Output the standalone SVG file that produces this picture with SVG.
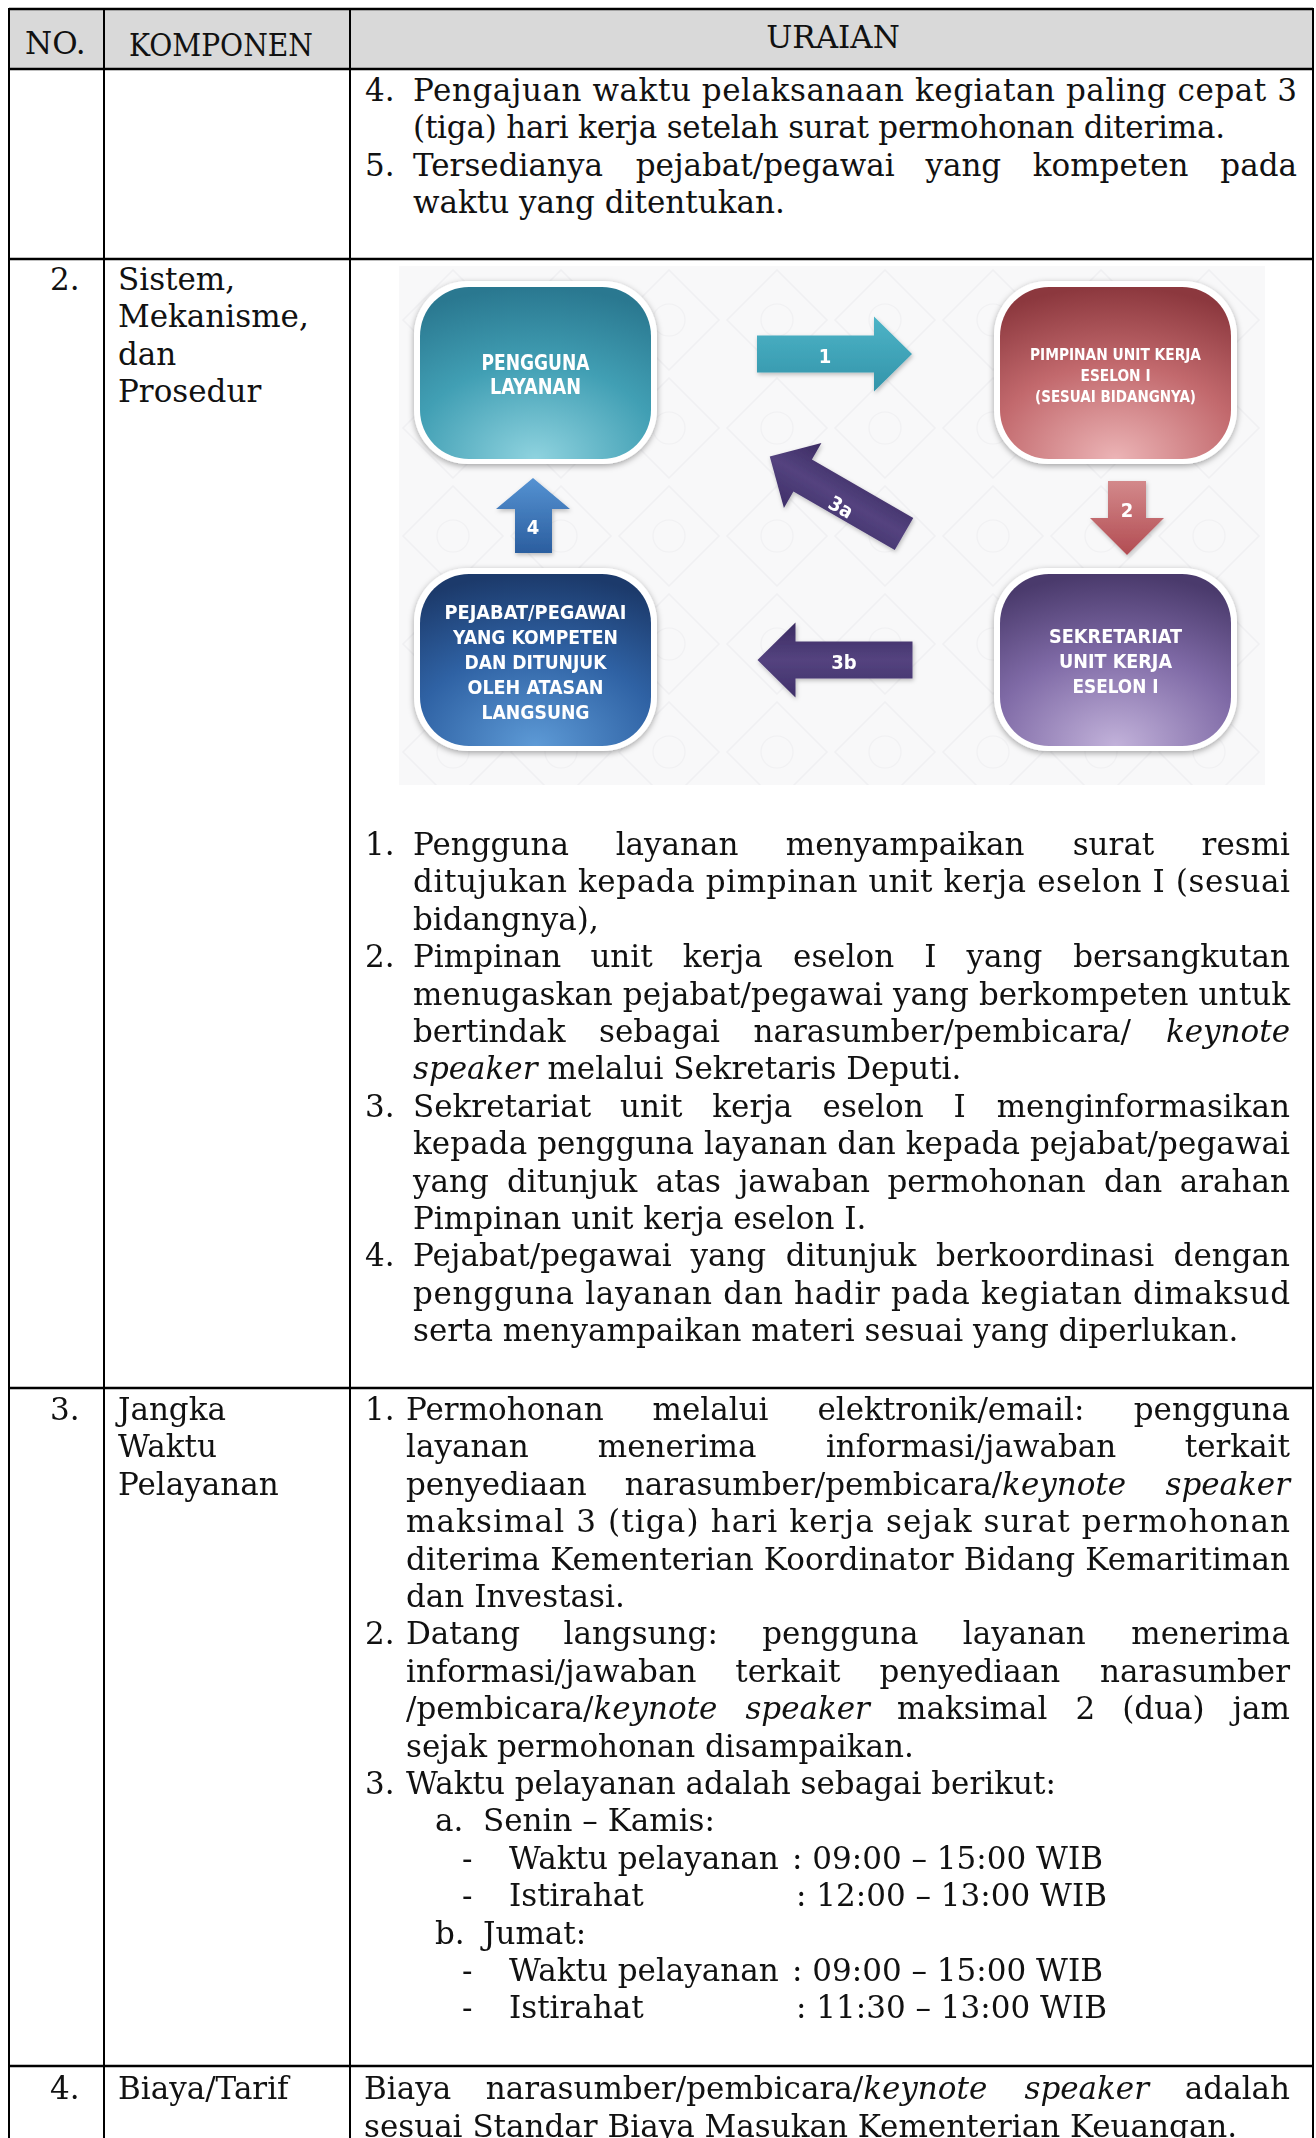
<svg xmlns="http://www.w3.org/2000/svg" width="1316" height="2138" viewBox="0 0 1316 2138">
<style>
.t{font-family:"DejaVu Serif","Liberation Serif",serif;font-size:31px;fill:#111}
.i{font-style:italic}
.e{text-anchor:end}
.m{text-anchor:middle}
.bl{font-family:"DejaVu Sans Condensed","Liberation Sans Narrow","DejaVu Sans",sans-serif;font-weight:bold;fill:#fff;text-anchor:middle}
.grid{stroke:#000;stroke-width:2;fill:none}
.rowl{stroke:#000;stroke-width:2.5}
.frame{fill:#fff;filter:url(#sh)}
</style>
<defs>
<filter id="sh" x="-10%" y="-10%" width="120%" height="125%">
<feDropShadow dx="0" dy="2" stdDeviation="3" flood-color="#000" flood-opacity="0.35"/>
</filter>
<filter id="ash" x="-10%" y="-10%" width="130%" height="130%">
<feDropShadow dx="1" dy="2" stdDeviation="2" flood-color="#000" flood-opacity="0.25"/>
</filter>
<radialGradient id="gTeal" cx="50%" cy="100%" r="100%">
<stop offset="0" stop-color="#8fd3df"/><stop offset="0.55" stop-color="#419fb4"/><stop offset="1" stop-color="#2a7890"/>
</radialGradient>
<radialGradient id="gRed" cx="50%" cy="100%" r="100%">
<stop offset="0" stop-color="#ecb4b6"/><stop offset="0.55" stop-color="#c2696d"/><stop offset="1" stop-color="#8c383e"/>
</radialGradient>
<radialGradient id="gNavy" cx="50%" cy="100%" r="100%">
<stop offset="0" stop-color="#5d9ad6"/><stop offset="0.55" stop-color="#2f62a4"/><stop offset="1" stop-color="#1c3a6b"/>
</radialGradient>
<radialGradient id="gPurp" cx="50%" cy="100%" r="100%">
<stop offset="0" stop-color="#c2b2da"/><stop offset="0.55" stop-color="#7f6aa6"/><stop offset="1" stop-color="#4a3a6c"/>
</radialGradient>
<linearGradient id="aTeal" x1="0" y1="0" x2="0" y2="1">
<stop offset="0" stop-color="#4db4c7"/><stop offset="1" stop-color="#3394aa"/>
</linearGradient>
<linearGradient id="aRed" x1="0" y1="0" x2="0" y2="1">
<stop offset="0" stop-color="#d3898b"/><stop offset="1" stop-color="#b24c52"/>
</linearGradient>
<linearGradient id="aPurp" x1="0" y1="0" x2="0" y2="1">
<stop offset="0" stop-color="#3f2f69"/><stop offset="0.5" stop-color="#54437f"/><stop offset="1" stop-color="#3b2b62"/>
</linearGradient>
<linearGradient id="aBlue" x1="0" y1="0" x2="0" y2="1">
<stop offset="0" stop-color="#5592d2"/><stop offset="1" stop-color="#2b5e9f"/>
</linearGradient>
<pattern id="bgp" width="108" height="108" patternUnits="userSpaceOnUse" x="399" y="266">
<rect width="108" height="108" fill="#f8f8f9"/>
<path d="M54 4 L104 54 L54 104 L4 54 Z" fill="none" stroke="#f0f0f2" stroke-width="1.5"/>
<circle cx="54" cy="54" r="16" fill="none" stroke="#f1f1f3" stroke-width="1.2"/>
</pattern>
<path id="arr" d="M0 -18.5 L117 -18.5 L117 -37.5 L155 0 L117 37.5 L117 18.5 L0 18.5 Z"/>
</defs>

<rect width="1316" height="2138" fill="#fff"/>

<g id="table">
<rect x="9" y="9" width="1304" height="60" fill="#d9d9d9"/>
<line class="rowl" x1="9" y1="9" x2="1313" y2="9"/>
<line class="rowl" x1="9" y1="69" x2="1313" y2="69"/>
<line class="rowl" x1="9" y1="259" x2="1313" y2="259"/>
<line class="rowl" x1="9" y1="1388" x2="1313" y2="1388"/>
<line class="rowl" x1="9" y1="2066" x2="1313" y2="2066"/>
<line class="grid" x1="9" y1="8" x2="9" y2="2138"/>
<line class="grid" x1="104" y1="8" x2="104" y2="2138"/>
<line class="grid" x1="350" y1="8" x2="350" y2="2138"/>
<line class="grid" x1="1313" y1="8" x2="1313" y2="2138"/>
</g>

<g id="header">
<text class="t" x="25" y="53.5">NO.</text>
<text class="t" x="129" y="55.5" textLength="184" lengthAdjust="spacingAndGlyphs">KOMPONEN</text>
<text class="t m" x="833" y="48">URAIAN</text>
</g>

<g id="row1">
<text class="t" x="365" y="100.5">4.</text>
<text class="t" x="413" y="100.5" textLength="884" lengthAdjust="spacing">Pengajuan waktu pelaksanaan kegiatan paling cepat 3</text>
<text class="t" x="413" y="138" textLength="812" lengthAdjust="spacing">(tiga) hari kerja setelah surat permohonan diterima.</text>
<text class="t" x="365" y="175.5">5.</text>
<text class="t" y="175.5"><tspan x="413">Tersedianya</tspan><tspan x="635.7">pejabat/pegawai</tspan><tspan x="925.4">yang</tspan><tspan x="1032.7">kompeten</tspan></text>
<text class="t e" x="1297" y="175.5">pada</text>
<text class="t" x="413" y="213">waktu yang ditentukan.</text>
</g>

<g id="row2">
<text class="t" x="50" y="290">2.</text>
<text class="t" x="118" y="290">Sistem,</text>
<text class="t" x="118" y="327.4">Mekanisme,</text>
<text class="t" x="118" y="364.8">dan</text>
<text class="t" x="118" y="402.2">Prosedur</text>

<rect x="399" y="266" width="866" height="519" fill="url(#bgp)"/>

<g id="connectors" filter="url(#ash)">
<g id="arrow-1">
<use href="#arr" transform="translate(757 354)" fill="url(#aTeal)"/>
<text class="bl" x="825" y="363" font-size="20">1</text>
</g>
<g id="arrow-2">
<path d="M1108 481 L1146 481 L1146 518 L1164 518 L1127 555 L1090 518 L1108 518 Z" fill="url(#aRed)"/>
<text class="bl" x="1127" y="517" font-size="20">2</text>
</g>
<g id="arrow-3a">
<use href="#arr" transform="translate(904 534) rotate(210)" fill="url(#aPurp)"/>
<text class="bl" x="841" y="514" font-size="20" transform="rotate(30 841 507)">3a</text>
</g>
<g id="arrow-3b">
<use href="#arr" transform="translate(912.5 660) rotate(180)" fill="url(#aPurp)"/>
<text class="bl" x="844" y="669" font-size="20">3b</text>
</g>
<g id="arrow-4">
<path d="M515 553 L552 553 L552 509 L570 509 L533 478 L496 509 L515 509 Z" fill="url(#aBlue)"/>
<text class="bl" x="533" y="534" font-size="20">4</text>
</g>
</g>

<g id="node-pengguna">
<rect class="frame" x="414" y="281" width="243" height="183" rx="54"/>
<rect x="420" y="287" width="231" height="172" rx="49" fill="url(#gTeal)"/>
<text class="bl" x="535.5" y="370" font-size="21" textLength="108" lengthAdjust="spacingAndGlyphs">PENGGUNA</text>
<text class="bl" x="535.5" y="393.5" font-size="21" textLength="91" lengthAdjust="spacingAndGlyphs">LAYANAN</text>
</g>

<g id="node-pimpinan">
<rect class="frame" x="994" y="281" width="243" height="183" rx="54"/>
<rect x="1000" y="287" width="231" height="172" rx="49" fill="url(#gRed)"/>
<text class="bl" x="1115.5" y="360" font-size="15.5" textLength="171" lengthAdjust="spacingAndGlyphs">PIMPINAN UNIT KERJA</text>
<text class="bl" x="1115.5" y="381" font-size="15.5" textLength="70" lengthAdjust="spacingAndGlyphs">ESELON I</text>
<text class="bl" x="1115.5" y="401.5" font-size="15.5" textLength="161" lengthAdjust="spacingAndGlyphs">(SESUAI BIDANGNYA)</text>
</g>

<g id="node-pejabat">
<rect class="frame" x="414" y="568" width="243" height="183" rx="54"/>
<rect x="420" y="574" width="231" height="172" rx="49" fill="url(#gNavy)"/>
<text class="bl" x="535.5" y="618.5" font-size="19" textLength="182" lengthAdjust="spacingAndGlyphs">PEJABAT/PEGAWAI</text>
<text class="bl" x="535.5" y="643.5" font-size="19" textLength="165" lengthAdjust="spacingAndGlyphs">YANG KOMPETEN</text>
<text class="bl" x="535.5" y="668.5" font-size="19" textLength="142" lengthAdjust="spacingAndGlyphs">DAN DITUNJUK</text>
<text class="bl" x="535.5" y="693.5" font-size="19" textLength="136" lengthAdjust="spacingAndGlyphs">OLEH ATASAN</text>
<text class="bl" x="535.5" y="718.5" font-size="19" textLength="108" lengthAdjust="spacingAndGlyphs">LANGSUNG</text>
</g>

<g id="node-sekretariat">
<rect class="frame" x="994" y="568" width="243" height="183" rx="54"/>
<rect x="1000" y="574" width="231" height="172" rx="49" fill="url(#gPurp)"/>
<text class="bl" x="1115.5" y="643" font-size="19" textLength="133" lengthAdjust="spacingAndGlyphs">SEKRETARIAT</text>
<text class="bl" x="1115.5" y="668" font-size="19" textLength="113" lengthAdjust="spacingAndGlyphs">UNIT KERJA</text>
<text class="bl" x="1115.5" y="693" font-size="19" textLength="86" lengthAdjust="spacingAndGlyphs">ESELON I</text>
</g>

<text class="t" x="365" y="855">1.</text>
<text class="t" y="855"><tspan x="413">Pengguna</tspan><tspan x="615.7">layanan</tspan><tspan x="785.8">menyampaikan</tspan><tspan x="1072.7">surat</tspan></text>
<text class="t e" x="1290" y="855">resmi</text>
<text class="t" x="413" y="892.4" textLength="877" lengthAdjust="spacing">ditujukan kepada pimpinan unit kerja eselon I (sesuai</text>
<text class="t" x="413" y="929.8">bidangnya),</text>
<text class="t" x="365" y="967.2">2.</text>
<text class="t" y="967.2"><tspan x="413">Pimpinan</tspan><tspan x="590.4">unit</tspan><tspan x="682.7">kerja</tspan><tspan x="793.1">eselon</tspan><tspan x="924.2">I</tspan><tspan x="966.6">yang</tspan></text>
<text class="t e" x="1290" y="967.2">bersangkutan</text>
<text class="t" x="413" y="1004.6" textLength="877" lengthAdjust="spacing">menugaskan pejabat/pegawai yang berkompeten untuk</text>
<text class="t" y="1042"><tspan x="413">bertindak</tspan><tspan x="599.1">sebagai</tspan><tspan x="753.5">narasumber/pembicara/</tspan></text>
<text class="t i e" x="1290" y="1042">keynote</text>
<text class="t" x="413" y="1079.4"><tspan class="i">speaker</tspan> melalui Sekretaris Deputi.</text>
<text class="t" x="365" y="1116.8">3.</text>
<text class="t" y="1116.8"><tspan x="413">Sekretariat</tspan><tspan x="620.1">unit</tspan><tspan x="712.3">kerja</tspan><tspan x="822.6">eselon</tspan><tspan x="953.6">I</tspan></text>
<text class="t e" x="1290" y="1116.8">menginformasikan</text>
<text class="t" x="413" y="1154.2" textLength="877" lengthAdjust="spacing">kepada pengguna layanan dan kepada pejabat/pegawai</text>
<text class="t" y="1191.6"><tspan x="413">yang</tspan><tspan x="506.9">ditunjuk</tspan><tspan x="655.7">atas</tspan><tspan x="738.7">jawaban</tspan><tspan x="887.5">permohonan</tspan><tspan x="1103.9">dan</tspan></text>
<text class="t e" x="1290" y="1191.6">arahan</text>
<text class="t" x="413" y="1229">Pimpinan unit kerja eselon I.</text>
<text class="t" x="365" y="1266.4">4.</text>
<text class="t" y="1266.4"><tspan x="413">Pejabat/pegawai</tspan><tspan x="690.4">yang</tspan><tspan x="785.8">ditunjuk</tspan><tspan x="936.1">berkoordinasi</tspan></text>
<text class="t e" x="1290" y="1266.4">dengan</text>
<text class="t" x="413" y="1303.8" textLength="877" lengthAdjust="spacing">pengguna layanan dan hadir pada kegiatan dimaksud</text>
<text class="t" x="413" y="1341.2">serta menyampaikan materi sesuai yang diperlukan.</text>
</g>

<g id="row3">
<text class="t" x="50" y="1420">3.</text>
<text class="t" x="118" y="1420">Jangka</text>
<text class="t" x="118" y="1457.4">Waktu</text>
<text class="t" x="118" y="1494.8">Pelayanan</text>

<text class="t" x="365" y="1420">1.</text>
<text class="t" y="1420"><tspan x="406">Permohonan</tspan><tspan x="652.6">melalui</tspan><tspan x="817.4">elektronik/email:</tspan></text>
<text class="t e" x="1290" y="1420">pengguna</text>
<text class="t" y="1457.4"><tspan x="406">layanan</tspan><tspan x="597.8">menerima</tspan><tspan x="825.9">informasi/jawaban</tspan></text>
<text class="t e" x="1290" y="1457.4">terkait</text>
<text class="t" y="1494.8"><tspan x="406">penyediaan</tspan><tspan x="624.7">narasumber/pembicara/</tspan><tspan class="i">keynote</tspan></text>
<text class="t i e" x="1290" y="1494.8">speaker</text>
<text class="t" x="406" y="1532.2" textLength="884" lengthAdjust="spacing">maksimal 3 (tiga) hari kerja sejak surat permohonan</text>
<text class="t" x="406" y="1569.6" textLength="884" lengthAdjust="spacing">diterima Kementerian Koordinator Bidang Kemaritiman</text>
<text class="t" x="406" y="1607">dan Investasi.</text>
<text class="t" x="365" y="1644.4">2.</text>
<text class="t" y="1644.4"><tspan x="406">Datang</tspan><tspan x="563.5">langsung:</tspan><tspan x="762.2">pengguna</tspan><tspan x="962.8">layanan</tspan></text>
<text class="t e" x="1290" y="1644.4">menerima</text>
<text class="t" y="1681.8"><tspan x="406">informasi/jawaban</tspan><tspan x="735.2">terkait</tspan><tspan x="879.5">penyediaan</tspan></text>
<text class="t e" x="1290" y="1681.8">narasumber</text>
<text class="t" y="1719.2"><tspan x="406">/pembicara/</tspan><tspan class="i">keynote</tspan><tspan class="i" x="745.4">speaker</tspan><tspan x="897.1">maksimal</tspan><tspan x="1075.5">2</tspan><tspan x="1122.2">(dua)</tspan></text>
<text class="t e" x="1290" y="1719.2">jam</text>
<text class="t" x="406" y="1756.6">sejak permohonan disampaikan.</text>
<text class="t" x="365" y="1794">3.</text>
<text class="t" x="406" y="1794">Waktu pelayanan adalah sebagai berikut:</text>
<text class="t" x="435" y="1831.4">a.</text>
<text class="t" x="483" y="1831.4">Senin – Kamis:</text>
<text class="t" x="462" y="1868.8">-</text>
<text class="t" x="509" y="1868.8">Waktu pelayanan</text>
<text class="t" x="792" y="1868.8">: 09:00 – 15:00 WIB</text>
<text class="t" x="462" y="1906.2">-</text>
<text class="t" x="509" y="1906.2">Istirahat</text>
<text class="t" x="796" y="1906.2">: 12:00 – 13:00 WIB</text>
<text class="t" x="435" y="1943.6">b.</text>
<text class="t" x="483" y="1943.6">Jumat:</text>
<text class="t" x="462" y="1981">-</text>
<text class="t" x="509" y="1981">Waktu pelayanan</text>
<text class="t" x="792" y="1981">: 09:00 – 15:00 WIB</text>
<text class="t" x="462" y="2018.4">-</text>
<text class="t" x="509" y="2018.4">Istirahat</text>
<text class="t" x="796" y="2018.4">: 11:30 – 13:00 WIB</text>
</g>

<g id="row4">
<text class="t" x="50" y="2099">4.</text>
<text class="t" x="118" y="2099">Biaya/Tarif</text>
<text class="t" y="2099"><tspan x="364">Biaya</tspan><tspan x="485.8">narasumber/pembicara/</tspan><tspan class="i">keynote</tspan><tspan class="i" x="1024.5">speaker</tspan></text>
<text class="t e" x="1290" y="2099">adalah</text>
<text class="t" x="364" y="2136.5">sesuai Standar Biaya Masukan Kementerian Keuangan.</text>
</g>
</svg>
